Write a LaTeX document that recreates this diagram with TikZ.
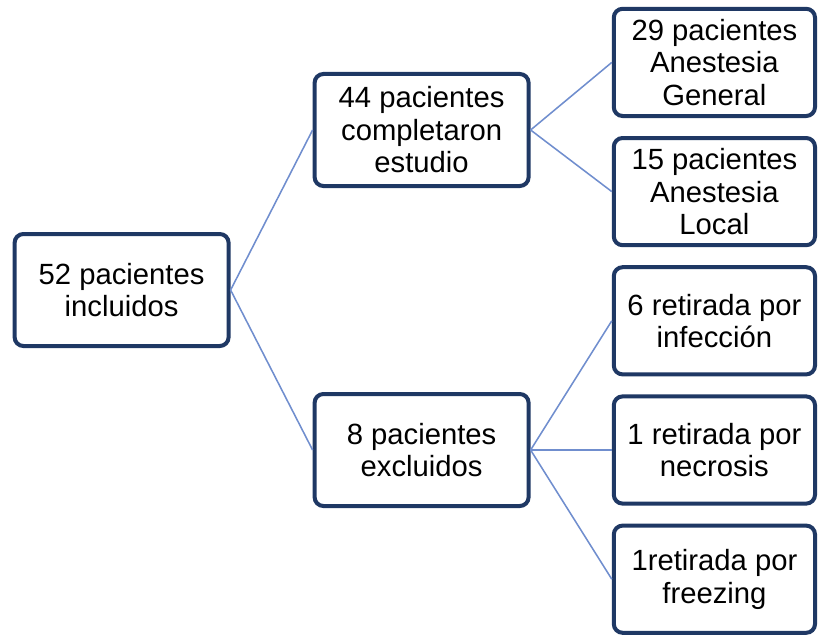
\documentclass[tikz,border=0pt]{standalone}
\usepackage{fontspec}
\setmainfont{Liberation Sans}
\usepackage{tikz}
\usetikzlibrary{positioning}
\definecolor{boxnavy}{RGB}{31,56,100}
\definecolor{linkblue}{RGB}{112,142,206}
\tikzset{
    block_main/.style={rectangle, draw=boxnavy, line width=0.1cm, rounded corners=0.22cm, fill=white, align=center, minimum width=5.35cm, minimum height=2.8cm, font=\fontsize{20.8}{23.1}\selectfont},
    block_side/.style={rectangle, draw=boxnavy, line width=0.1cm, rounded corners=0.22cm, fill=white, align=center, minimum width=5.03cm, minimum height=2.68cm, font=\fontsize{20.8}{23.1}\selectfont},
    link/.style={draw=linkblue, line width=1.1pt}
}
\begin{document}
\begin{tikzpicture}[node distance=0.45cm and 2.03cm]
            \useasboundingbox (0,0) rectangle (20.475,-15.85);
			\node (incl) [block_main] at (3.04,-7.25) {52 pacientes\\incluidos};

            \node (compl) [block_main, right=2.05cm of incl, yshift=4cm] {44 pacientes\\completaron\\estudio};
            \node (excl) [block_main, right=2.05cm of incl, yshift=-4cm] {8 pacientes\\excluidos};

            % right column
            \node (gen) [block_side, right=of compl, yshift=1.69cm] {29 pacientes\\Anestesia\\General};
            \node (loc) [block_side, below=of gen] {15 pacientes\\Anestesia\\Local};
            \node (inf) [block_side, below=of loc] {6 retirada por\\infección};
            \node (necr) [block_side, below=of inf] {1 retirada por\\necrosis};
            \node (frz) [block_side, below=of necr] {1retirada por\\freezing};

            % connectors
            \draw [link] (incl.east) -- (compl.west);
            \draw [link] (incl.east) -- (excl.west);
            \draw [link] (compl.east) -- (gen.west);
            \draw [link] (compl.east) -- (loc.west);
            \draw [link] (excl.east) -- (inf.west);
            \draw [link] (excl.east) -- (necr.west);
            \draw [link] (excl.east) -- (frz.west);
		\end{tikzpicture}
\end{document}
